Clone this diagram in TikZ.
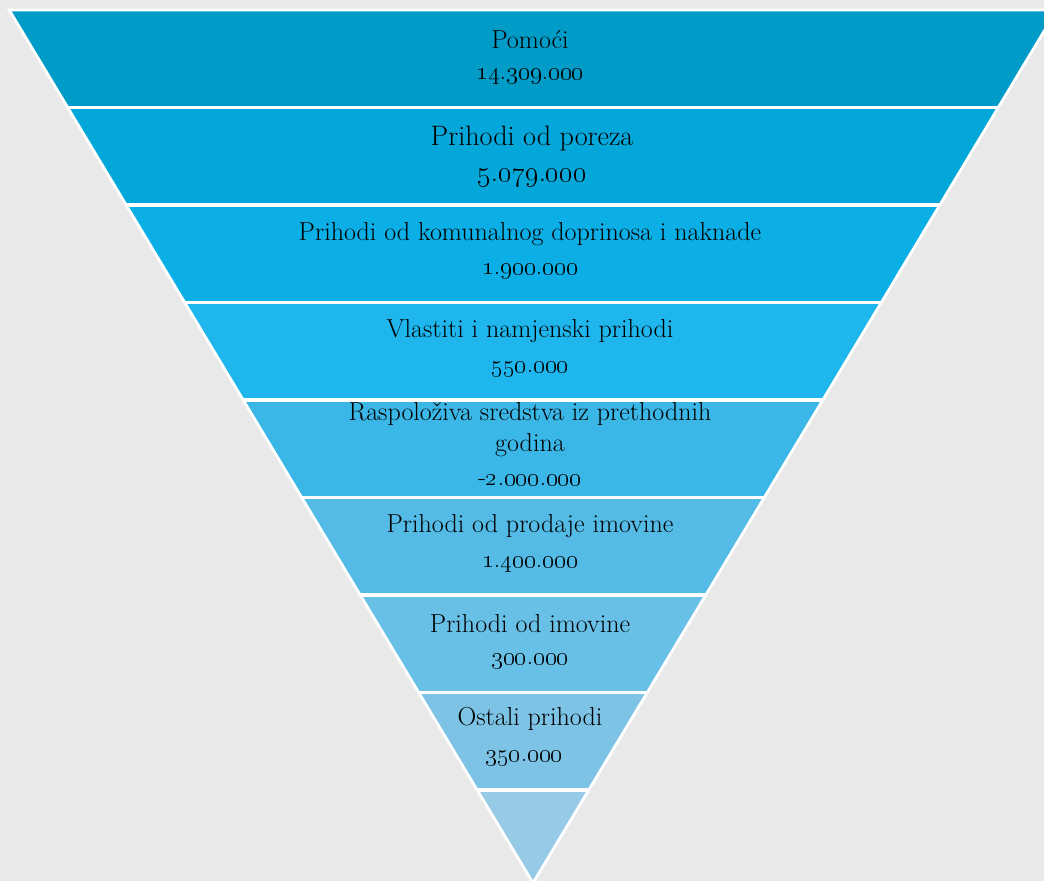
\RequirePackage{fix-cm}
\documentclass[tikz,border=0pt]{standalone}
\usepackage{tikz}
\definecolor{bggray}{RGB}{233,233,233}
\definecolor{bandA}{RGB}{0,156,199}
\definecolor{bandB}{RGB}{4,167,217}
\definecolor{bandC}{RGB}{11,175,230}
\definecolor{bandD}{RGB}{30,182,236}
\definecolor{bandE}{RGB}{58,183,231}
\definecolor{bandF}{RGB}{83,187,230}
\definecolor{bandG}{RGB}{104,192,231}
\definecolor{bandH}{RGB}{124,195,230}
\definecolor{bandI}{RGB}{150,202,230}
\newcommand{\osn}[1]{\oldstylenums{#1}}
\tikzset{
  lbl/.style={text=black,font=\fontsize{18.5}{22}\selectfont,align=center,inner sep=0pt},
  biglbl/.style={lbl,font=\fontsize{20}{24}\selectfont},
  num/.style={text=black,font=\fontsize{18}{21}\selectfont,inner sep=0pt},
  bignum/.style={num,font=\fontsize{20.5}{24}\selectfont}
}
\begin{document}
\begin{tikzpicture}[y=-1cm]
\useasboundingbox (0,0) rectangle (26.1,22.025);
\fill[bggray] (0,0) rectangle (26.1,22.025);
\coordinate (topL) at (0.23,0.25);
\coordinate (topR) at (26.42,0.25);
\coordinate (apex) at (13.325,22.075);
\begin{scope}
\clip (topL) -- (topR) -- (apex) -- cycle;
\foreach \i/\c in {0/bandA,1/bandB,2/bandC,3/bandD,4/bandE,5/bandF,6/bandG,7/bandH,8/bandI}
  \fill[\c] (0,{0.25+2.4375*\i}) rectangle (27,{0.25+2.4375*(\i+1)});
\foreach \i in {1,...,8}
  \draw[white,line width=2.8pt] (0,{0.25+2.4375*\i}) -- (27,{0.25+2.4375*\i});
\end{scope}
\draw[white,line width=2pt,line join=miter] (topL) -- (topR) -- (apex) -- cycle;
\node[lbl] (pomoci) at (13.25,1.0) {Pomoći};
\node[num] (pomociN) at (13.25,1.9) {\osn{14}.\osn{309}.\osn{000}};
\node[biglbl] (porez) at (13.3,3.45) {Prihodi od poreza};
\node[bignum] (porezN) at (13.3,4.45) {\osn{5}.\osn{079}.\osn{000}};
\node[lbl] (komunal) at (13.25,5.85) {Prihodi od komunalnog doprinosa i naknade};
\node[num] (komunalN) at (13.25,6.775) {\osn{1}.\osn{900}.\osn{000}};
\node[lbl] (vlastiti) at (13.25,8.275) {Vlastiti i namjenski prihodi};
\node[num] (vlastitiN) at (13.25,9.225) {\osn{550}.\osn{000}};
\node[lbl] (raspol) at (13.25,10.75) {Raspoloživa sredstva iz prethodnih\\godina};
\node[num] (raspolN) at (13.25,12.0) {-\osn{2}.\osn{000}.\osn{000}};
\node[lbl] (prodaja) at (13.25,13.15) {Prihodi od prodaje imovine};
\node[num] (prodajaN) at (13.25,14.1) {\osn{1}.\osn{400}.\osn{000}};
\node[lbl] (imovina) at (13.25,15.6) {Prihodi od imovine};
\node[num] (imovinaN) at (13.25,16.525) {\osn{300}.\osn{000}};
\node[lbl] (ostali) at (13.25,17.975) {Ostali prihodi};
\node[num] (ostaliN) at (13.1,18.95) {\osn{350}.\osn{000}};
\end{tikzpicture}
\end{document}
